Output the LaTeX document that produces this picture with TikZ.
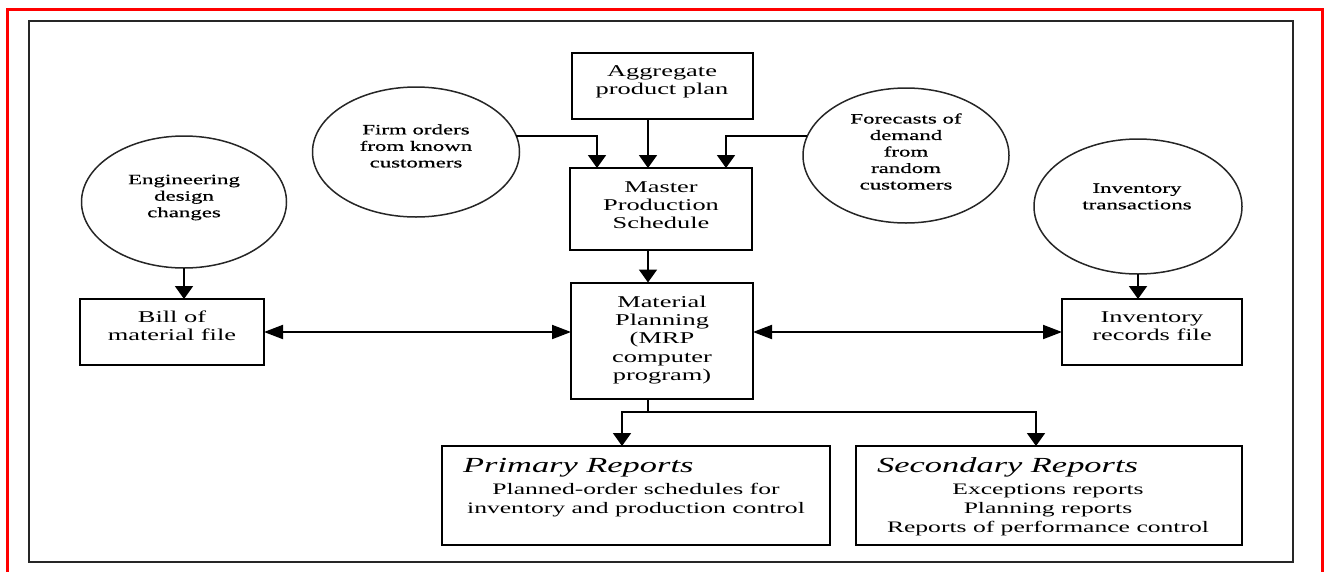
\documentclass[tikz,border=0pt]{standalone}
\usepackage{fontspec}
\setmainfont{Liberation Serif}[FakeStretch=1.6]
\newfontfamily\ellfont{Liberation Serif}[FakeStretch=1.6,FakeBold=0.6]
\usetikzlibrary{arrows.meta,shapes.geometric}
\begin{document}
\begin{tikzpicture}[x=1pt,y=-1pt,
  boxnode/.style={draw, rectangle, line width=2pt, inner sep=0pt, outer sep=0pt},
  ell/.style={draw=black!85, ellipse, line width=1.5pt, inner sep=0pt, outer sep=0pt},
  btxt/.style={align=center, inner sep=0pt, font=\fontsize{16.5}{18.3}\selectfont},
  etxt/.style={align=center, inner sep=0pt, font=\ellfont\fontsize{14.3}{16.5}\selectfont},
  rtxt/.style={align=center, inner sep=0pt, font=\fontsize{16}{19}\selectfont},
  ttl/.style={inner sep=0pt, font=\fontsize{21.5}{24}\selectfont\itshape},
  conn/.style={line width=1.9pt},
  varrow/.style={conn, -{Triangle[length=13pt,width=18pt]}},
  harrow/.style={conn, {Triangle[length=19pt,width=14pt]}-{Triangle[length=19pt,width=14pt]}}]
\useasboundingbox (0,0) rectangle (1325,571);
% frames
\draw[red, line width=3pt] (7,580) -- (7,9) -- (1322,9) -- (1322,580);
\draw[black!85, line width=1.6pt] (29,21) rectangle (1293,562);
% boxes
\node[boxnode, minimum width=181pt, minimum height=66pt] (agg) at (662,86) {};
\node[boxnode, minimum width=182pt, minimum height=82pt] (mps) at (661,209) {};
\node[boxnode, minimum width=182pt, minimum height=116pt] (mp) at (662,340.5) {};
\node[boxnode, minimum width=184pt, minimum height=66pt] (bom) at (172,332) {};
\node[boxnode, minimum width=180pt, minimum height=66pt] (irf) at (1152,332) {};
\node[boxnode, minimum width=388pt, minimum height=99pt] (prim) at (636,495.5) {};
\node[boxnode, minimum width=386pt, minimum height=99pt] (sec) at (1049,495.5) {};
% ellipses
\node[ell, minimum width=205pt, minimum height=132pt] (eng) at (184,202) {};
\node[ell, minimum width=207pt, minimum height=130pt] (firm) at (416,152) {};
\node[ell, minimum width=206pt, minimum height=135pt] (fore) at (906,155.5) {};
\node[ell, minimum width=208pt, minimum height=135pt] (inv) at (1138,206.5) {};
% texts
\node[btxt] (aggt) at (662,82) {Aggregate\\product plan};
\node[btxt] (mpst) at (661,205) {Master\\Production\\Schedule};
\node[btxt] (mpt) at (662,340) {Material\\Planning\\(MRP\\computer\\program)};
\node[btxt] (bomt) at (172,325.5) {Bill of\\material file};
\node[btxt] (irft) at (1152,326.5) {Inventory\\records file};
\node[etxt] (engt) at (184,197.5) {Engineering\\design\\changes};
\node[etxt] (firmt) at (416,146) {Firm orders\\from known\\customers};
\node[etxt] (foret) at (906,151.5) {Forecasts of\\demand\\from\\random\\customers};
\node[etxt] (invt) at (1137,196.5) {Inventory\\transactions};
\node[ttl, anchor=base west] (primt) at (463,472) {Primary Reports};
\node[rtxt] (primb) at (636,500) {Planned-order schedules for\\inventory and production control};
\node[ttl, anchor=base west] (sect) at (877,472) {Secondary Reports};
\node[rtxt] (secb) at (1048,509.5) {Exceptions reports\\Planning reports\\Reports of performance control};
% helper coordinates
\coordinate (spine) at (648,0);
\coordinate (fx) at (597,0);
\coordinate (gx) at (726,0);
\coordinate (pax) at (622,0);
\coordinate (sax) at (1036,0);
\coordinate (split) at (648,412);
% connectors
\draw[varrow] (agg.south -| spine) -- (mps.north -| spine);
\draw[varrow] (firm.9) -| (mps.north -| fx);
\draw[varrow] (fore.169) -| (mps.north -| gx);
\draw[varrow] (mps.south -| spine) -- (mp.north -| spine);
\draw[varrow] (eng.south) -- (eng.south |- bom.north);
\draw[varrow] (inv.south) -- (inv.south |- irf.north);
\draw[harrow] (bom.east) -- (bom.east -| mp.west);
\draw[harrow] (mp.east |- irf.west) -- (irf.west);
\draw[conn] (mp.south -| spine) -- (split);
\draw[varrow] (split) -| (prim.north -| pax);
\draw[varrow] (split) -| (sec.north -| sax);
\end{tikzpicture}
\end{document}
